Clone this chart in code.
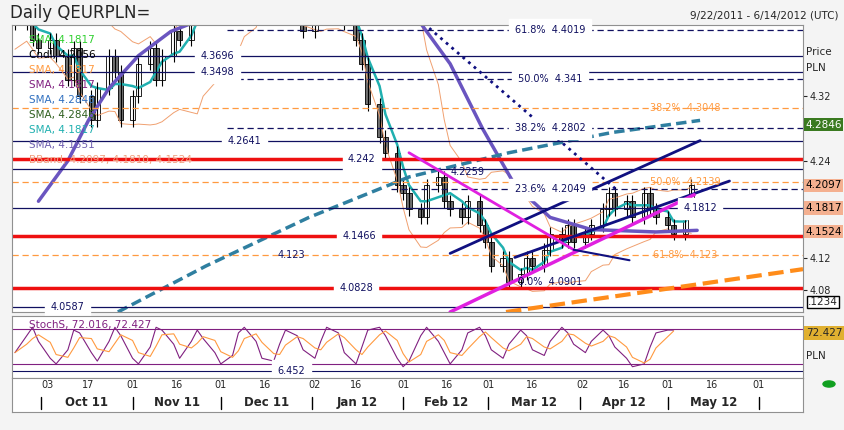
import numpy as np, pandas as pd, seaborn as sns
import matplotlib
matplotlib.use("Agg")
import matplotlib.pyplot as plt
import matplotlib.dates as mdates

sns.set_style("white")
plt.rcParams['font.family'] = ['DejaVu Sans']

# ---------------- data ----------------
closes = [4.41,4.43,4.39,4.38,4.39,4.37,4.34,4.38,4.32,4.29,4.33,4.37,4.35,4.29,4.32,4.36,4.38,4.34,4.37,4.40,
          4.39,4.42,4.44,4.45,4.46,4.44,4.47,4.46,4.48,4.47,4.45,4.46,4.44,4.43,4.42,4.40,4.42,4.43,4.44,4.42,
          4.41,4.39,4.36,4.31,4.27,4.25,4.21,4.20,4.18,4.17,4.21,4.22,4.19,4.18,4.17,4.19,4.16,4.14,4.11,4.12,
          4.09,4.10,4.12,4.11,4.13,4.15,4.14,4.16,4.14,4.15,4.16,4.18,4.20,4.18,4.19,4.17,4.20,4.18,4.17,4.16,
          4.15,4.18,4.21]
dates = pd.bdate_range("2011-09-22", periods=2*len(closes))[::2][:len(closes)]

purple_d = ["2011-09-30","2011-10-10","2011-10-17","2011-10-24","2011-11-03","2011-11-14","2011-11-28","2011-12-12",
            "2012-01-10","2012-02-03","2012-02-17","2012-02-28","2012-03-10","2012-03-22","2012-04-05","2012-04-27","2012-05-11"]
purple_v = [4.19,4.24,4.29,4.33,4.37,4.40,4.42,4.43,4.44,4.43,4.36,4.28,4.21,4.17,4.155,4.152,4.154]
sma200_d = ["2011-10-27","2011-11-26","2011-12-31","2012-02-03","2012-03-08","2012-04-12","2012-05-12"]
sma200_v = [4.053,4.11,4.17,4.22,4.25,4.275,4.29]

fib_nav_lbl = ["61.8%  4.4019","50.0%  4.341","38.2%  4.2802","23.6%  4.2049"]
fib_nav_v = [4.4019,4.341,4.2802,4.2049]
fib_org_lbl = ["38.2%  4.3048","50.0%  4.2139","61.8%  4.123"]
fib_org_v = [4.3048,4.2139,4.123]
solid_v = [4.3696,4.3498,4.2641,4.2300,4.1812,4.0587]
solid_lbl = ["4.3696","4.3498","4.2641","","4.1812","4.0587"]
solid_lx = ["2011-11-30","2011-11-30","2011-12-09",None,"2012-05-12","2011-10-10"]
red_v = [4.242,4.1466,4.0828]
red_lbl = ["4.242","4.1466","4.0828"]
red_lx = ["2012-01-18","2012-01-17","2012-01-16"]

trend = [  # (date0, p0, date1, p1, color, lw, style)
    ("2012-02-17",4.1255,"2012-05-12",4.2650,"#101080",2,"-"),
    ("2012-03-10",4.1205,"2012-05-22",4.2150,"#101080",2,"-"),
    ("2012-02-17",4.0530,"2012-05-10",4.1980,"#e020e0",2.5,"-"),
    ("2012-02-03",4.2500,"2012-03-30",4.1300,"#e020e0",2,"-"),
    ("2012-03-30",4.1300,"2012-04-18",4.1170,"#101080",1.5,"-"),
    ("2012-02-08",4.4100,"2012-04-14",4.2030,"#101080",2,":"),
    ("2012-03-07",4.0530,"2012-06-16",4.1060,"#ff8c1a",3,"--"),
]
stoch_k = [40,70,85,60,30,20,45,80,75,40,25,60,85,70,30,20,50,85,80,55,30,60,80,65,40,20,35,75,85,60,30,25,
           55,80,70,45,30,60,85,75,40,20,50,80,85,70,30,15,25,70,85,60,40,20,45,75,85,70,45,30,55,80,70,45,
           35,60,85,75,55,40,60,80,70,50,30,15,20,50,75,80,80]
stoch_d = pd.Series(stoch_k).rolling(3, min_periods=1).mean().tolist()

# ---------------- geometry ----------------
W, H = 844, 430
fig = plt.figure(figsize=(W/100, H/100), dpi=100, facecolor="#f4f4f4")
def rect(l, t, r, b): return [l/W, 1-b/H, (r-l)/W, (b-t)/H]
ax = fig.add_axes(rect(12, 25, 803, 312))
ax2 = fig.add_axes(rect(12, 316, 803, 378))
ax3 = fig.add_axes(rect(12, 378, 803, 412))
x0, x1 = mdates.date2num(pd.Timestamp("2011-09-21")), mdates.date2num(pd.Timestamp("2012-06-16"))
for a in (ax, ax2, ax3):
    a.set_xlim(x0, x1)
    for s in a.spines.values(): s.set_color("#909090"); s.set_linewidth(0.8)
ax.set_ylim(4.053, 4.408)
D = lambda s: mdates.date2num(pd.Timestamp(s))

xn = mdates.date2num(dates)
c = np.array(closes)
o = np.r_[c[0], c[:-1]]
sc = pd.Series(c)
mid = sc.rolling(10, min_periods=1).mean()
sd = sc.rolling(10, min_periods=3).std().bfill()
ax.plot(xn, mid + 1.6*sd, color="#f0a070", lw=0.7)
ax.plot(xn, mid - 1.6*sd, color="#f0a070", lw=0.7)
sns.lineplot(x=xn, y=sc.rolling(4, min_periods=1).mean(), ax=ax, color="#20b0b0", lw=1.8)
for xi, oi, ci in zip(xn, o, c):
    ax.vlines(xi, min(oi, ci)-0.008, max(oi, ci)+0.008, color="black", lw=0.8)
    ax.bar(xi, max(abs(ci-oi), 0.002), bottom=min(oi, ci), width=1.8,
           color=("white" if ci >= oi else "#707070"), edgecolor="black", lw=0.6)
sns.lineplot(x=[D(d) for d in purple_d], y=purple_v, ax=ax, color="#6a55c0", lw=2.5)
ax.plot([D(d) for d in sma200_d], sma200_v, color="#2f7fa0", lw=2.5, ls=(0, (3, 1.5)))

for v, l in zip(fib_nav_v, fib_nav_lbl):
    xs = D("2011-12-03") if v > 4.25 else D("2012-01-28")
    ax.plot([xs, x1], [v, v], color="#101060", lw=0.9, ls=(0, (5, 3)))
    ax.text(D("2012-03-22"), v, l, color="#101060", fontsize=7, ha="center", va="center", backgroundcolor="white")
for v, l in zip(fib_org_v, fib_org_lbl):
    ax.plot([x0, x1], [v, v], color="#ff9a40", lw=0.9, ls=(0, (5, 3)))
    ax.text(D("2012-05-07"), v, l, color="#ff9a40", fontsize=7, ha="center", va="center")
for v, l, lx in zip(solid_v, solid_lbl, solid_lx):
    ax.axhline(v, color="#101060", lw=0.9)
    if l: ax.text(D(lx), v, l, color="#101060", fontsize=7, ha="center", va="center", backgroundcolor="white")
for v, l, lx in zip(red_v, red_lbl, red_lx):
    ax.axhline(v, color="#ee1010", lw=2.5)
    ax.text(D(lx), v, l, color="#101060", fontsize=7, ha="center", va="center", backgroundcolor="white")
ax.text(D("2012-02-23"), 4.2259, "4.2259", color="#101060", fontsize=7, ha="center", va="center")
ax.text(D("2012-03-22"), 4.0901, "0.0%  4.0901", color="#101060", fontsize=7, ha="center", va="center")
ax.text(D("2011-12-25"), 4.123, "4.123", color="#101060", fontsize=7, ha="center", va="center")
for d0, p0, d1, p1, col, lw, ls in trend:
    ax.plot([D(d0), D(d1)], [p0, p1], color=col, lw=lw, ls=ls)

legend = [("SMA, 4.1817", "#30d030"), ("Cndl, 4.2056", "black"), ("SMA, 4.1817", "#ff9a40"),
          ("SMA, 4.1817", "#802080"), ("SMA, 4.2846", "#3070c0"), ("SMA, 4.2846", "#306020"),
          ("SMA, 4.1817", "#20b0b0"), ("SMA, 4.1551", "#7060b0"), ("BBand, 4.2097, 4.1810, 4.1524", "#f0a080")]
for i, (t, col) in enumerate(legend):
    fig.text(29/W, 1-(40+15*i)/H, t, color=col, fontsize=7.5, va="center")

ax.set_ylabel(""); ax.set_xlabel("")
ax.yaxis.tick_right()
ax.set_yticks([4.08, 4.12, 4.24, 4.32]); ax.tick_params(axis="y", labelsize=7, length=3, pad=2)
ax.set_xticks([])
boxes = [(4.2846, "4.2846", "#3a7a20", "white"), (4.2097, "4.2097", "#f4b090", "black"),
         (4.1817, "4.1817", "#f4b090", "black"), (4.1524, "4.1524", "#f4b090", "black")]
for v, t, bc, tc in boxes:
    ax.text(1.003, v, t, transform=ax.get_yaxis_transform(), fontsize=7.5, color=tc, va="center",
            bbox=dict(boxstyle="square,pad=0.15", fc=bc, ec="none"))
fig.text(806/W, 1-52/H, "Price", fontsize=7.5, va="center")
fig.text(806/W, 1-68/H, "PLN", fontsize=7.5, va="center")
fig.text(808/W, 1-302/H, ".1234", fontsize=7.5, va="center", bbox=dict(fc="white", ec="black", pad=1))

fig.text(10/W, 1-13/H, "Daily QEURPLN=", fontsize=12, va="center")
fig.text(838/W, 1-16/H, "9/22/2011 - 6/14/2012 (UTC)", fontsize=7.5, ha="right", va="center")

ax2.set_ylim(-5, 105)
ax2.plot(xn[:len(stoch_k)], stoch_k, color="#802080", lw=0.8)
ax2.plot(xn[:len(stoch_d)], stoch_d, color="#ff9a40", lw=0.8)
ax2.axhline(82, color="#802080", lw=0.8); ax2.axhline(20, color="#802080", lw=0.8)
ax2.axhline(8, color="#101060", lw=0.8)
ax2.text(D("2011-12-25"), 8, "6.452", fontsize=7, ha="center", va="center", color="#101060", backgroundcolor="white")
ax2.text(0.022, 0.85, "StochS, 72.016, 72.427", transform=ax2.transAxes, fontsize=7.5, color="#802080", va="center")
ax2.set_xticks([]); ax2.set_yticks([])
fig.text(806/W, 1-333/H, "72.427", fontsize=7.5, va="center", bbox=dict(boxstyle="square,pad=0.15", fc="#e0b030", ec="none"))
fig.text(806/W, 1-356/H, "PLN", fontsize=7.5, va="center")

ticks = ["2011-10-03","2011-10-17","2011-11-01","2011-11-16","2011-12-01","2011-12-16","2012-01-02","2012-01-16",
         "2012-02-01","2012-02-16","2012-03-01","2012-03-16","2012-04-02","2012-04-16","2012-05-01","2012-05-16","2012-06-01"]
months = ["Oct 11","Nov 11","Dec 11","Jan 12","Feb 12","Mar 12","Apr 12","May 12"]
mstarts = ["2011-10-01","2011-11-01","2011-12-01","2012-01-01","2012-02-01","2012-03-01","2012-04-01","2012-05-01","2012-06-01"]
ax3.set_ylim(0, 1); ax3.set_yticks([]); ax3.set_xticks([])
for t in ticks:
    ax3.text(D(t), 0.8, t[-2:], fontsize=7, ha="center", va="center")
for m in mstarts:
    ax3.plot([D(m), D(m)], [0.1, 0.45], color="black", lw=1)
for i, m in enumerate(months):
    ax3.text((D(mstarts[i]) + D(mstarts[i+1]))/2, 0.27, m, fontsize=8.5, fontweight="bold", ha="center", va="center")
fig.patches.append(plt.Circle((829/W, 1-384/H), 6/W, color="#10a020", transform=fig.transFigure))
fig.savefig("out.png", dpi=100, facecolor=fig.get_facecolor())
